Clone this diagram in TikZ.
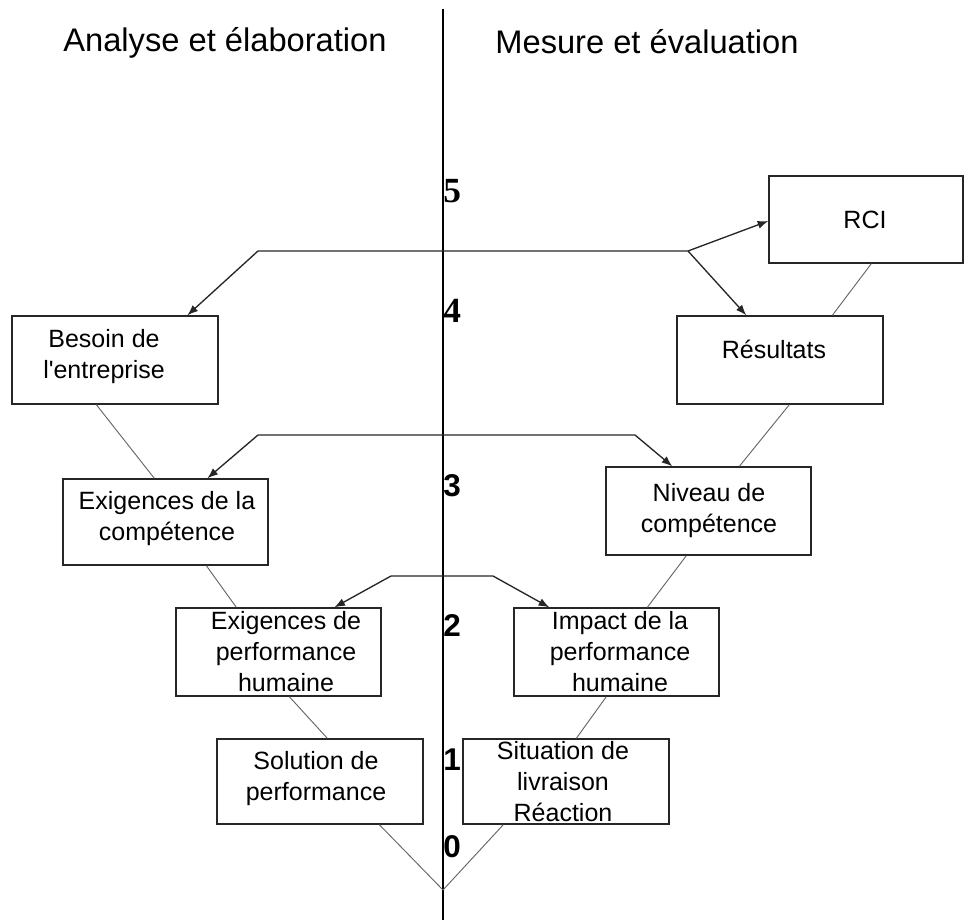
\documentclass[tikz,border=0pt]{standalone}
\usepackage{fontspec}
\setmainfont{Liberation Sans}
\newfontfamily\digitserif{Liberation Serif}
\usetikzlibrary{arrows.meta,calc}

\begin{document}
\begin{tikzpicture}[x=0.75pt,y=-0.75pt,
  box/.style 2 args={draw=black!85, line width=1pt, minimum width={#1*0.75pt},
    minimum height={#2*0.75pt}, inner sep=0pt},
  boxtext/.style={inner sep=0pt, align=center, font=\fontsize{18.75}{23.25}\selectfont},
  title/.style={inner sep=0pt, anchor=base, font=\fontsize{24.5}{29}\selectfont},
  level/.style={inner sep=0pt, anchor=base west, font=\fontsize{23.6}{28}\selectfont\bfseries},
  levelserif/.style={inner sep=0pt, anchor=base west, font=\fontsize{26.5}{30}\selectfont\digitserif\bfseries},
  chain/.style={draw=black!60, line width=0.7pt},
  feed/.style={draw=black!85, line width=1pt, -{Latex[length=8pt,width=6pt]}},
  axis/.style={draw=black, line width=1.1pt}]

\useasboundingbox (0,0) rectangle (965,920);

% column headings
\node[title] (hleft)  at (225,52) {Analyse et élaboration};
\node[title] (hright) at (647,54) {Mesure et évaluation};

% central axis
\coordinate (axtop) at (443,9);
\coordinate (axbot) at (443,920);
\draw[axis] (axtop) -- (axbot);

% level numbers along the axis
\node[levelserif] (l5) at (443,203) {5};
\node[levelserif] (l4) at (443,323) {4};
\node[level] (l3) at (443,496) {3};
\node[level] (l2) at (443,636) {2};
\node[level] (l1) at (443,770) {1};
\node[level] (l0) at (443,857) {0};

% left branch boxes
\node[box={206}{88}] (besoin)    at (115,360)   {};
\node[box={205}{86}] (exigcomp)  at (165.5,522) {};
\node[box={205}{88}] (exigperf)  at (278.5,652) {};
\node[box={206}{85}] (solution)  at (320,781.5) {};

% right branch boxes
\node[box={194}{87}] (rci)       at (866,219.5) {};
\node[box={206}{88}] (resultats) at (780,360)   {};
\node[box={205}{88}] (niveau)    at (708.5,511) {};
\node[box={205}{88}] (impact)    at (616.5,652) {};
\node[box={206}{85}] (situation) at (566,781.5) {};

% box labels
\node[boxtext] (besoinT)    at (104,357)   {Besoin de\\l\textquotesingle entreprise};
\node[boxtext] (exigcompT)  at (167,518.5) {Exigences de la\\compétence};
\node[boxtext] (exigperfT)  at (286,652)   {Exigences de\\performance\\humaine};
\node[boxtext] (solutionT)  at (316,778.5) {Solution de\\performance};
\node[boxtext] (rciT)       at (865,220)   {RCI};
\node[boxtext] (resultatsT) at (774,349)   {Résultats};
\node[boxtext] (niveauT)    at (709,510.5) {Niveau de\\compétence};
\node[boxtext] (impactT)    at (620,652)   {Impact de la\\performance\\humaine};
\node[boxtext] (situationT) at (563,782)   {Situation de\\livraison\\Réaction};

% the V chain linking the levels
\coordinate (vertex) at (443,890);
\draw[chain] ($(besoin.south west)+(85,0)$)    -- ($(exigcomp.north west)+(92,0)$);
\draw[chain] ($(exigcomp.south west)+(144,0)$) -- ($(exigperf.north west)+(61,0)$);
\draw[chain] ($(exigperf.south west)+(114,0)$) -- ($(solution.north west)+(111,0)$);
\draw[chain] ($(solution.south west)+(163,0)$) -- (vertex);
\draw[chain] ($(situation.south west)+(41,0)$) -- (vertex);
\draw[chain] ($(impact.south west)+(93,0)$)    -- ($(situation.north west)+(114,0)$);
\draw[chain] ($(niveau.south west)+(81,0)$)    -- ($(impact.north west)+(134,0)$);
\draw[chain] ($(resultats.south west)+(113,0)$) -- ($(niveau.north west)+(134,0)$);
\draw[chain] ($(rci.south west)+(103,0)$)      -- ($(resultats.north west)+(156,0)$);

% feedback links across the axis
\coordinate (fork4) at (688,251);
\coordinate (bend4) at (258,251);
\draw[feed] (fork4) -- (bend4) -- ($(besoin.north west)+(176,0)$);
\draw[feed] (fork4) -- ($(rci.west)+(0,1.5)$);
\draw[feed] (fork4) -- ($(resultats.north west)+(70,0)$);

\coordinate (bend3l) at (258,435);
\coordinate (bend3r) at (635,435);
\draw[feed] (bend3l) -- ($(exigcomp.north west)+(145,0)$);
\draw[feed] (bend3l) -- (bend3r) -- ($(niveau.north west)+(67,0)$);

\coordinate (bend2l) at (391,576);
\coordinate (bend2r) at (493,576);
\draw[feed] (bend2l) -- ($(exigperf.north west)+(159,0)$);
\draw[feed] (bend2l) -- (bend2r) -- ($(impact.north west)+(36,0)$);

\end{tikzpicture}
\end{document}
